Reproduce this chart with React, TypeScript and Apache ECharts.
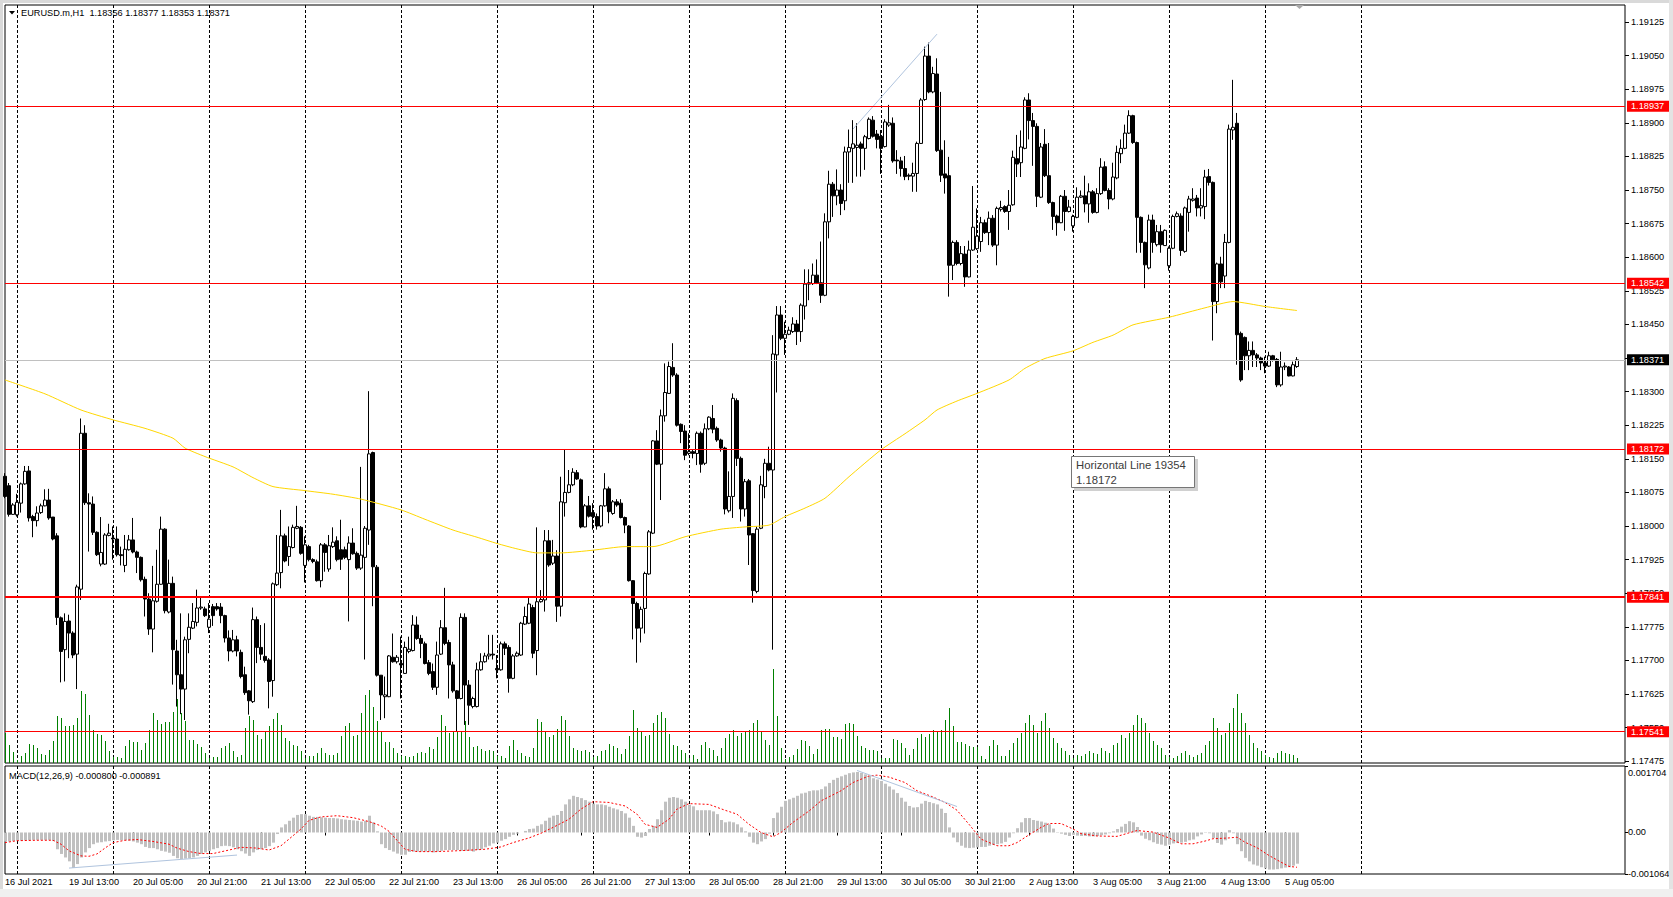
import React, { useEffect, useRef } from "react";
import * as echarts from "echarts";

// ---------------- data ----------------
const symbolName = "EURUSD.m,H1";
const indicatorName = "MACD(12,26,9)";
const tooltipTitle = "Horizontal Line 19354";

// time-axis tick labels, one every 16 hourly bars starting at bar 0
const tickLabels = [
  "16 Jul 2021", "19 Jul 13:00", "20 Jul 05:00", "20 Jul 21:00", "21 Jul 13:00",
  "22 Jul 05:00", "22 Jul 21:00", "23 Jul 13:00", "26 Jul 05:00", "26 Jul 21:00",
  "27 Jul 13:00", "28 Jul 05:00", "28 Jul 21:00", "29 Jul 13:00", "30 Jul 05:00",
  "30 Jul 21:00", "2 Aug 13:00", "3 Aug 05:00", "3 Aug 21:00", "4 Aug 13:00", "5 Aug 05:00",
];
const barsPerLabel = 16;
const firstMidnightBar = 3;
const barsPerDay = 24;
const lastGridBar = 339;
const futureBars = 82;

const priceTicks = [
  1.17475, 1.1755, 1.17625, 1.177, 1.17775, 1.1785, 1.17925, 1.18, 1.18075, 1.1815, 1.18225, 1.183,
  1.18375, 1.1845, 1.18525, 1.186, 1.18675, 1.1875, 1.18825, 1.189, 1.18975, 1.1905, 1.19125,
];
const priceMin = 1.17471;
const priceMax = 1.19163;
const macdMin = -0.001064;
const macdMax = 0.001704;
const macdTicks = [-0.001064, 0, 0.001704];

const redLevels = [1.18937, 1.18542, 1.18172, 1.17841, 1.17541];
const boldLevel = 1.17841;
const bidLevel = 1.18371;
const tooltipLevel = 1.18172;

// [open, high, low, close] per H1 bar
const ohlc: number[][] = [
  [1.18111,1.18118,1.18062,1.18066],[1.1809,1.18096,1.18021,1.18026],[1.18026,1.18051,1.18025,1.18047],[1.18025,1.18072,1.18021,1.18053],
  [1.18051,1.18097,1.1803,1.18094],[1.18094,1.18134,1.18092,1.18122],[1.18123,1.18134,1.1801,1.18018],[1.18021,1.18025,1.17975,1.18012],
  [1.18012,1.18044,1.17999,1.18029],[1.1803,1.1805,1.18027,1.18045],[1.18045,1.18082,1.18044,1.18058],[1.18058,1.18083,1.18014,1.18018],
  [1.1802,1.1802,1.17968,1.17971],[1.17978,1.17984,1.17779,1.17796],[1.17795,1.17798,1.17651,1.1772],[1.17724,1.17805,1.17653,1.17787],
  [1.17788,1.17802,1.17705,1.17761],[1.17761,1.17765,1.17705,1.17712],[1.17714,1.17869,1.17636,1.17864],[1.17859,1.1824,1.17835,1.18207],
  [1.18207,1.18225,1.18047,1.18052],[1.18052,1.18073,1.17943,1.18049],[1.18049,1.18066,1.1798,1.17986],[1.17986,1.17988,1.17933,1.17936],
  [1.17915,1.1802,1.1791,1.17941],[1.17915,1.17984,1.17913,1.1798],[1.17979,1.18005,1.17977,1.17984],[1.17973,1.17999,1.17925,1.17971],
  [1.17971,1.17999,1.17932,1.17936],[1.17936,1.17954,1.17912,1.17934],[1.17912,1.1798,1.17897,1.17948],[1.17947,1.1798,1.17945,1.17969],
  [1.17969,1.18018,1.17939,1.17942],[1.17942,1.17945,1.17895,1.1793],[1.1793,1.17932,1.17876,1.1788],[1.17881,1.17887,1.17798,1.17837],
  [1.17837,1.1785,1.17757,1.1777],[1.1777,1.17911,1.17718,1.17833],[1.17832,1.17947,1.17829,1.1787],[1.1787,1.18021,1.17869,1.17993],
  [1.17993,1.17995,1.17805,1.17811],[1.17808,1.17925,1.17805,1.17872],[1.17872,1.17887,1.17646,1.17724],[1.17721,1.17746,1.17597,1.17668],
  [1.17668,1.17805,1.1758,1.17636],[1.17636,1.17753,1.17567,1.17746],[1.17747,1.17805,1.17716,1.17774],[1.17772,1.17828,1.1777,1.17787],
  [1.17785,1.17858,1.17776,1.17817],[1.17817,1.17841,1.17813,1.17819],[1.17815,1.1782,1.17797,1.178],[1.17774,1.17828,1.17761,1.17792],
  [1.1782,1.17826,1.17777,1.178],[1.1782,1.17828,1.17811,1.17815],[1.17819,1.17828,1.17783,1.178],[1.178,1.17802,1.1774,1.1775],
  [1.1775,1.17767,1.17698,1.17721],[1.17721,1.17768,1.17718,1.17746],[1.17746,1.17755,1.17709,1.17721],[1.17718,1.17724,1.1766,1.17664],
  [1.17668,1.17686,1.17623,1.17628],[1.17632,1.17634,1.17579,1.1761],[1.17608,1.17818,1.17605,1.17791],[1.17791,1.17798,1.17694,1.17729],
  [1.17729,1.17779,1.17701,1.17714],[1.17709,1.17783,1.17695,1.177],[1.17701,1.17705,1.17593,1.17653],[1.17655,1.17874,1.17619,1.17871],
  [1.17869,1.1798,1.17866,1.17895],[1.17896,1.18036,1.17861,1.17978],[1.17978,1.17983,1.17919,1.17922],[1.17932,1.17999,1.17911,1.17954],
  [1.17952,1.18003,1.1795,1.17997],[1.17995,1.18045,1.17993,1.17999],[1.17997,1.18,1.17936,1.17939],[1.17912,1.17977,1.17874,1.17958],
  [1.17954,1.17958,1.17921,1.17925],[1.17925,1.17928,1.17917,1.17921],[1.1792,1.17925,1.17876,1.17878],[1.17878,1.17962,1.17863,1.17958],
  [1.17958,1.17962,1.17898,1.17941],[1.17904,1.1798,1.17898,1.17956],[1.17954,1.17997,1.17951,1.17964],[1.17967,1.17977,1.17921,1.17925],
  [1.17947,1.18014,1.17902,1.17926],[1.17947,1.17954,1.17926,1.1793],[1.17925,1.17977,1.17787,1.17962],[1.17962,1.17995,1.17936,1.17938],
  [1.17939,1.17943,1.17902,1.17906],[1.17906,1.18132,1.17902,1.17935],[1.1793,1.18,1.17702,1.17995],[1.17991,1.18301,1.17958,1.18161],
  [1.18164,1.18166,1.17821,1.17909],[1.17908,1.17913,1.17664,1.17667],[1.17667,1.17667,1.17567,1.17623],[1.17619,1.17664,1.17571,1.17623],
  [1.17619,1.17712,1.17618,1.1771],[1.17707,1.1776,1.17695,1.17697],[1.17697,1.17712,1.17693,1.17707],[1.17693,1.17753,1.17615,1.1769],
  [1.17671,1.17742,1.1767,1.17729],[1.1772,1.17753,1.17716,1.17725],[1.17722,1.17801,1.1772,1.17779],[1.17779,1.17798,1.17746,1.17749],
  [1.17749,1.17757,1.17705,1.17738],[1.17737,1.17742,1.17691,1.17693],[1.17695,1.17701,1.17667,1.17671],[1.17675,1.17693,1.17634,1.1764],
  [1.1764,1.17742,1.17623,1.17712],[1.17714,1.1779,1.17712,1.17773],[1.17773,1.17862,1.17734,1.17738],[1.1774,1.17746,1.17615,1.1769],
  [1.1769,1.17697,1.17628,1.17632],[1.17632,1.17634,1.17541,1.17615],[1.17615,1.17805,1.17613,1.17796],[1.17796,1.17805,1.17556,1.17645],
  [1.17645,1.17656,1.17556,1.176],[1.17597,1.17619,1.17593,1.17615],[1.17597,1.17695,1.17595,1.17679],[1.17679,1.17716,1.17677,1.17697],
  [1.17697,1.17717,1.17695,1.1771],[1.1771,1.17757,1.17702,1.17714],[1.17714,1.17757,1.17702,1.17712],[1.17682,1.17712,1.1766,1.17679],
  [1.17679,1.17742,1.17677,1.17737],[1.17737,1.17742,1.17712,1.17727],[1.17729,1.17734,1.17628,1.1766],[1.1766,1.17714,1.17658,1.1771],
  [1.1771,1.1772,1.17708,1.17716],[1.17712,1.17786,1.1771,1.17783],[1.17781,1.1782,1.17779,1.17798],[1.17783,1.17842,1.17781,1.17826],
  [1.17818,1.17824,1.17705,1.17716],[1.17722,1.17997,1.17667,1.17831],[1.17831,1.17857,1.17829,1.17836],[1.17835,1.17991,1.17809,1.17967],
  [1.17967,1.17991,1.17909,1.17913],[1.17917,1.17969,1.17913,1.17933],[1.17933,1.17946,1.17786,1.17821],[1.17821,1.1811,1.17798,1.18054],
  [1.18052,1.1817,1.18021,1.18075],[1.18075,1.18125,1.18073,1.18092],[1.18092,1.18129,1.18089,1.1812],[1.18119,1.18125,1.18103,1.18105],
  [1.18103,1.18106,1.17995,1.17998],[1.17998,1.18049,1.17997,1.18045],[1.18045,1.18067,1.18019,1.18022],[1.1803,1.18051,1.17992,1.18021],
  [1.18021,1.18028,1.17992,1.18],[1.18,1.18047,1.17997,1.18045],[1.18045,1.18118,1.18043,1.18083],[1.18083,1.18088,1.18006,1.18032],
  [1.18028,1.18058,1.18025,1.18054],[1.18054,1.1806,1.18043,1.18047],[1.18051,1.1806,1.18017,1.18019],[1.18019,1.18021,1.17984,1.18002],
  [1.18,1.18002,1.17876,1.17878],[1.17878,1.17879,1.17747,1.17827],[1.17827,1.17831,1.17695,1.17772],[1.17772,1.1782,1.1774,1.17814],
  [1.17816,1.17898,1.1776,1.17894],[1.17893,1.17991,1.17891,1.17987],[1.17984,1.18192,1.17982,1.1819],[1.1819,1.18214,1.18136,1.18138],
  [1.18138,1.1826,1.18058,1.18246],[1.18246,1.18363,1.18233,1.18298],[1.18296,1.18367,1.18295,1.18356],[1.18354,1.18408,1.18333,1.18337],
  [1.18337,1.18341,1.18222,1.18225],[1.18227,1.18229,1.18185,1.18211],[1.18212,1.18225,1.18147,1.18158],[1.18162,1.18207,1.18158,1.18166],
  [1.18166,1.18171,1.18151,1.18162],[1.18162,1.18211,1.18136,1.18207],[1.18207,1.18211,1.18119,1.18138],[1.1814,1.18229,1.18136,1.18217],
  [1.18217,1.18245,1.18214,1.18243],[1.1824,1.1827,1.18207,1.18216],[1.18218,1.18222,1.18188,1.18192],[1.18192,1.18195,1.18166,1.18174],
  [1.18174,1.18177,1.18026,1.18038],[1.18034,1.18122,1.1803,1.18066],[1.18066,1.18296,1.18018,1.18285],[1.1828,1.18285,1.18134,1.18151],
  [1.18151,1.18155,1.1801,1.18038],[1.18038,1.18105,1.18021,1.18099],[1.18101,1.18105,1.17913,1.1798],[1.17983,1.17984,1.17829,1.17856],
  [1.17854,1.17999,1.1785,1.17993],[1.17995,1.18112,1.17993,1.18092],[1.18088,1.1815,1.18062,1.1814],[1.1814,1.18177,1.18122,1.18125],
  [1.18125,1.18426,1.17724,1.18384],[1.18382,1.18491,1.18298,1.18471],[1.18471,1.18491,1.18415,1.18419],[1.18419,1.18456,1.18382,1.18428],
  [1.18428,1.18445,1.18426,1.18437],[1.18434,1.18466,1.18431,1.18451],[1.18451,1.1846,1.18404,1.18434],[1.18434,1.18497,1.18411,1.18493],
  [1.18491,1.18573,1.18461,1.1854],[1.18543,1.18573,1.18504,1.1854],[1.18541,1.18586,1.18538,1.1856],[1.1856,1.18595,1.1854,1.18543],
  [1.18543,1.18635,1.18498,1.18515],[1.18515,1.18698,1.18513,1.18679],[1.18679,1.18793,1.18642,1.18763],[1.18763,1.18768,1.1869,1.18737],
  [1.18737,1.18796,1.18716,1.1875],[1.1875,1.18763,1.18694,1.1872],[1.18726,1.18847,1.18705,1.18835],[1.18835,1.18885,1.18766,1.18845],
  [1.18843,1.18906,1.18766,1.18853],[1.18845,1.18899,1.1878,1.1885],[1.18853,1.18858,1.1878,1.18843],[1.18843,1.18873,1.18795,1.18869],
  [1.18865,1.18912,1.18863,1.18908],[1.18906,1.18915,1.18867,1.1887],[1.18875,1.18884,1.18843,1.18863],[1.1887,1.18884,1.18786,1.18843],
  [1.18847,1.18908,1.18845,1.18902],[1.18895,1.1894,1.18891,1.189],[1.18899,1.18912,1.18811,1.18815],[1.18817,1.18839,1.18786,1.18815],
  [1.18815,1.18824,1.1878,1.18798],[1.18798,1.18826,1.18772,1.1878],[1.18783,1.18787,1.18772,1.18781],[1.18781,1.18811,1.18746,1.18787],
  [1.18787,1.18858,1.18746,1.18854],[1.18854,1.18955,1.18853,1.18951],[1.18952,1.1907,1.18949,1.19049],[1.19049,1.19079,1.18966,1.18969],
  [1.18969,1.19025,1.18966,1.1901],[1.19009,1.19044,1.18835,1.18838],[1.18839,1.18969,1.18768,1.18783],[1.18786,1.18861,1.18742,1.18777],
  [1.18782,1.18824,1.18512,1.18582],[1.18582,1.18637,1.18549,1.18633],[1.18633,1.18638,1.18582,1.18586],[1.18586,1.18625,1.18582,1.18608],
  [1.18607,1.18625,1.18534,1.18556],[1.18556,1.18637,1.18555,1.18616],[1.18616,1.18759,1.18614,1.18667],[1.18619,1.18709,1.18616,1.18647],
  [1.18635,1.1869,1.18612,1.18677],[1.18677,1.18684,1.18652,1.18655],[1.18655,1.18702,1.18627,1.18687],[1.18687,1.18694,1.18623,1.18627],
  [1.18627,1.18713,1.18582,1.18709],[1.18707,1.18726,1.18702,1.18711],[1.18713,1.18716,1.18699,1.18702],[1.18702,1.1875,1.18661,1.18716],
  [1.18717,1.18838,1.18715,1.18823],[1.1882,1.18873,1.18779,1.18808],[1.18811,1.18883,1.18779,1.18846],[1.18843,1.18957,1.18841,1.18951],
  [1.18951,1.18966,1.18863,1.18905],[1.18905,1.18922,1.18804,1.18892],[1.18892,1.18899,1.18712,1.18736],[1.18734,1.18855,1.18732,1.18846],
  [1.18852,1.18886,1.18779,1.18782],[1.18782,1.18855,1.18719,1.18722],[1.18722,1.18724,1.18661,1.18691],[1.18692,1.18695,1.18648,1.18677],
  [1.18677,1.18739,1.18676,1.18736],[1.18736,1.1875,1.18659,1.18702],[1.18702,1.18728,1.187,1.18712],[1.1867,1.18695,1.18657,1.18691],
  [1.18689,1.18756,1.18687,1.18734],[1.18734,1.18749,1.18732,1.18737],[1.18737,1.18782,1.187,1.18719],[1.18719,1.18765,1.18677,1.18746],
  [1.18746,1.1875,1.18697,1.187],[1.187,1.18754,1.18698,1.18742],[1.18742,1.18821,1.18739,1.18801],[1.18802,1.18814,1.18747,1.18749],
  [1.18749,1.18754,1.18707,1.1873],[1.1873,1.18811,1.18727,1.18779],[1.18777,1.18849,1.18774,1.18834],[1.18831,1.18863,1.1881,1.18843],
  [1.18843,1.18896,1.18841,1.18877],[1.18877,1.18928,1.18875,1.18916],[1.18916,1.18918,1.18853,1.18856],[1.18856,1.18858,1.1861,1.18689],
  [1.18689,1.18691,1.1861,1.18633],[1.18633,1.18635,1.18531,1.18583],[1.18576,1.18695,1.18573,1.18683],[1.18683,1.18695,1.1861,1.18633],
  [1.18628,1.18672,1.18624,1.18657],[1.18657,1.18672,1.1861,1.18628],[1.18626,1.18662,1.18625,1.1866],[1.18581,1.18624,1.1857,1.1862],
  [1.1862,1.18695,1.18618,1.18691],[1.18691,1.18702,1.18689,1.18697],[1.18692,1.18698,1.18603,1.18615],[1.18613,1.18713,1.1861,1.1871],
  [1.187,1.18737,1.18657,1.1873],[1.18727,1.18754,1.18724,1.1873],[1.18732,1.18739,1.18691,1.1871],[1.1871,1.18754,1.18691,1.18715],
  [1.18713,1.18795,1.18685,1.18779],[1.1878,1.18797,1.1876,1.18767],[1.18767,1.18769,1.18414,1.18501],[1.18501,1.18588,1.18475,1.18585],
  [1.18585,1.18601,1.18531,1.18545],[1.18558,1.18652,1.18531,1.18633],[1.18633,1.18896,1.18631,1.18886],[1.18884,1.18996,1.18862,1.1889],
  [1.18899,1.18922,1.1836,1.18427],[1.1843,1.18434,1.18322,1.18326],[1.18421,1.18423,1.18348,1.1838],[1.1838,1.18412,1.18348,1.18392],
  [1.18392,1.18412,1.18355,1.18382],[1.18382,1.18386,1.18355,1.18375],[1.18375,1.18378,1.18348,1.18364],[1.18364,1.18378,1.18341,1.18357],
  [1.18357,1.18389,1.18355,1.1838],[1.1838,1.18382,1.18367,1.18371],[1.18372,1.18375,1.1831,1.18315],[1.18315,1.18389,1.18311,1.18355],
  [1.18355,1.18365,1.18348,1.18357],[1.18355,1.18357,1.18334,1.18335],[1.18335,1.18367,1.18334,1.1836],[1.18356,1.18377,1.18353,1.18371],
];

// tick volume per bar
const tickVolume = [
  30,18,11,3,7,10,19,18,15,9,8,13,22,47,45,37,37,38,45,72,69,48,33,29,28,22,12,6,6,5,17,23,21,21,13,20,33,50,43,39,
  41,41,51,64,50,42,23,23,19,16,10,5,6,6,15,17,20,12,6,8,35,47,43,28,24,32,37,44,50,38,25,22,18,17,12,5,7,7,10,15,
  10,8,8,10,27,37,40,27,28,50,68,73,56,42,32,21,21,15,10,7,7,6,7,10,11,10,16,14,26,48,37,30,32,31,32,42,26,16,17,14,
  12,13,12,7,7,5,17,23,13,10,7,6,15,44,41,32,26,28,34,47,43,27,15,13,12,13,11,6,7,12,13,19,17,15,9,14,27,53,35,32,
  27,28,40,48,51,45,29,18,17,13,10,5,8,4,18,21,15,13,7,15,25,29,33,27,30,32,33,40,43,32,23,18,94,47,15,4,6,8,14,23,
  22,17,9,14,33,34,34,26,26,24,39,40,39,27,17,15,13,13,12,5,5,5,24,23,20,15,8,14,25,29,26,29,33,32,33,43,55,37,21,21,
  19,17,16,16,7,4,17,23,18,7,7,13,20,25,30,40,48,38,30,42,50,35,25,20,15,12,8,5,8,7,9,12,10,9,15,12,10,18,20,28,
  25,30,38,48,45,40,30,22,18,15,8,6,5,7,10,12,8,6,8,10,18,22,45,35,28,30,40,55,69,50,40,28,20,15,12,8,6,5,10,12,
  10,9,8,5,
];
const volumeAxisMax = 758;

// MACD main line, drawn as histogram
const macdMain = [
  -0.00023,-0.00023,-0.00022,-0.00021,-0.00021,-0.0002,-0.0002,-0.00019,-0.00019,-0.00019,-0.00019,-0.00019,-0.00022,-0.00043,-0.00055,-0.00064,-0.00074,-0.00091,
  -0.00081,-0.00064,-0.00051,-0.0004,-0.0003,-0.00026,-0.00025,-0.00023,-0.00022,-0.0002,-0.00019,-0.0002,-0.0002,-0.00021,-0.00023,-0.00026,-0.0003,-0.00037,
  -0.0004,-0.0004,-0.00043,-0.00047,-0.00049,-0.00052,-0.0006,-0.00066,-0.00068,-0.00067,-0.00066,-0.00064,-0.0006,-0.00055,
  -0.00051,-0.00047,-0.00043,-0.0004,-0.00035,-0.00034,-0.00035,-0.00038,-0.00043,-0.00048,-0.00054,-0.0006,-0.00051,-0.00045,-0.00043,-0.0004,-0.00035,-0.00026,
  -0.00004,0.00013,0.00021,0.0003,0.00038,0.00045,0.00047,0.00047,0.00043,0.0004,0.0004,0.00039,0.00038,0.00037,0.00037,0.00036,0.00034,0.00033,0.00032,0.00031,
  0.0003,0.00028,0.0003,0.00043,0.00026,0.00003,-0.0003,-0.0004,-0.00045,-0.00049,-0.00054,-0.00057,
  -0.00057,-0.0005,-0.00049,-0.00049,-0.00049,-0.00049,-0.00049,-0.00051,-0.00049,-0.00047,-0.00045,-0.00045,-0.00045,-0.00045,-0.00047,-0.00047,-0.00047,-0.00049,
  -0.00045,-0.00043,-0.00038,-0.00034,-0.00028,-0.00026,-0.00021,-0.00017,-0.00011,-0.00006,-0.00003,0,0.00004,0.00009,0.0001,0.00017,
  0.00021,0.0003,0.00038,0.00043,0.00045,0.00055,0.00072,0.00085,0.00094,0.00091,0.00088,0.00083,0.00079,0.00074,0.00072,0.00072,0.0007,0.00066,0.00062,0.00059,
  0.00055,0.00049,0.00038,0.00017,-0.00011,-0.00013,-0.00009,0.00009,0.00017,0.00034,0.00057,0.00079,0.00089,0.00091,0.00089,0.00085,0.00079,0.00071,0.00067,0.00057,
  0.00057,0.00057,0.00057,0.00054,0.00047,0.00032,0.00026,0.00028,
  0.00026,0.00021,0.00013,0.00003,-0.00011,-0.00026,-0.0003,-0.00023,-0.00017,-0.00003,0.00037,0.00051,0.00066,0.00081,0.00085,0.00089,0.00094,0.001,0.00102,0.00106,
  0.00108,0.00108,0.00111,0.00118,0.00127,0.00135,0.0014,0.00144,0.00148,0.00152,0.00154,0.00155,0.00153,0.00149,0.00145,0.00139,0.00136,0.00132,0.00125,0.00118,
  0.0011,0.00101,0.00089,0.00079,0.00068,0.00064,0.00065,0.00074,0.00081,0.00078,
  0.00075,0.00072,0.00061,0.0005,0.00013,-0.00013,-0.00025,-0.00034,-0.00039,-0.0004,-0.00039,-0.00038,-0.00037,-0.00037,-0.00034,-0.00032,-0.0003,-0.00028,-0.00024,-0.00013,
  -0.00002,0.00011,0.00026,0.00037,0.00037,0.00032,0.0003,0.00028,0.00025,0.00021,0.0001,0.00001,-0.00003,-0.00006,-0.00009,-0.00006,-0.00008,-0.00009,-0.00009,-0.0001,
  -0.0001,-0.00009,-0.00007,-0.00005,-0.00002,0.00003,0.00009,0.00015,0.00022,0.00029,
  0.00026,0.00014,-0.00008,-0.00016,-0.0002,-0.00025,-0.00029,-0.00031,-0.00034,-0.00031,-0.00028,-0.00027,-0.00026,-0.00024,-0.0002,-0.00018,-0.0001,-0.00005,-0.00001,-0.00002,
  -0.00014,-0.00027,-0.00031,-0.0002,0.00006,-0.00002,-0.0003,-0.00048,-0.00065,-0.00074,-0.00082,-0.00085,-0.00089,-0.00092,-0.00095,-0.00095,-0.00094,-0.00092,-0.0009,-0.00089,
  -0.00085,-0.0008,
];

// MACD signal line, [bar, value]
const macdSignal: number[][] = [
  [0,-0.00026],[3,-0.00021],[8,-0.0002],[12,-0.0002],[14,-0.0003],[16,-0.00047],[19,-0.0006],[21,-0.00061],[23,-0.00055],[25,-0.0004],
  [27,-0.00026],[30,-0.0002],[33,-0.00018],[37,-0.00023],[41,-0.0003],[43,-0.0004],[46,-0.00049],[49,-0.00054],[52,-0.00054],[56,-0.00045],
  [59,-0.00038],[63,-0.0004],[66,-0.00045],[69,-0.00034],[71,-0.00017],[74,0.00009],[76,0.00031],[79,0.0004],[83,0.00043],[87,0.00038],
  [91,0.00028],[94,0.00017],[96,0.00003],[98,-0.0002],[100,-0.00043],[103,-0.00049],[108,-0.00049],[115,-0.00046],[120,-0.00043],[124,-0.00037],
  [127,-0.00026],[131,-0.00014],[134,-0.00002],[137,0.00013],[141,0.00034],[144,0.0006],[147,0.00079],[151,0.00077],[155,0.00068],[158,0.00047],
  [160,0.00021],[163,0.00013],[166,0.00034],[168,0.0006],[171,0.00074],[176,0.00072],[180,0.00057],[183,0.00047],[186,0.00021],[189,0],
  [192,-0.00011],[194,0],[197,0.00026],[201,0.00055],[204,0.00081],[209,0.00107],[212,0.00128],[216,0.00145],[218,0.00147],[221,0.00142],
  [225,0.00128],[228,0.00107],[232,0.00091],[235,0.00077],[238,0.00057],[241,0.00021],[244,-0.00017],[248,-0.00034],[251,-0.00034],[253,-0.00026],
  [256,-0.00006],[259,0.00013],[261,0.00023],[264,0.00023],[267,0.00009],[269,-0.00003],[273,-0.00009],[278,-0.0001],[283,0.00005],[287,0.00001],
  [291,-0.00014],[294,-0.00029],[297,-0.00029],[300,-0.00022],[302,-0.00016],[306,-0.00014],[308,-0.00012],[310,-0.00025],[313,-0.00039],[316,-0.00059],
  [319,-0.00076],[321,-0.00087],[323,-0.000891],
];
const macdLastMain = -0.0008;
const macdLastSignal = -0.000891;

// yellow moving average, [bar, price]
const movingAverage: number[][] = [
  [0,1.18326],[10,1.18295],[19,1.18259],[27,1.18237],[35,1.18218],[42,1.18196],[45,1.18174],[50,1.18155],[57,1.18132],[62,1.18108],
  [67,1.18088],[75,1.18079],[82,1.18071],[89,1.1806],[99,1.18036],[105,1.18015],[112,1.17991],[118,1.17975],[123,1.17961],[128,1.17949],
  [133,1.1794],[139,1.1794],[147,1.17946],[155,1.17954],[162,1.17954],[170,1.17976],[179,1.17993],[185,1.17998],[191,1.18002],[195,1.18021],
  [200,1.1804],[205,1.18062],[211,1.1811],[219,1.1817],[225,1.18206],[230,1.18237],[233,1.18259],[238,1.18279],[243,1.18296],[251,1.18326],
  [255,1.18352],[260,1.18374],[267,1.18391],[272,1.1841],[277,1.18426],[282,1.18449],[291,1.18466],[300,1.18487],[307,1.18501],[315,1.1849],
  [323,1.18481],
];

// hand-drawn trend lines
const priceTrend: number[][] = [[212, 1.18886], [233, 1.19098]];
const macdTrendA: number[][] = [[16, -0.000912], [58, -0.000579]];
const macdTrendB: number[][] = [[213, 0.00159], [238, 0.000665]];

// ---------------- chart ----------------
const FONT = '"Liberation Sans", Arial, sans-serif';
const FS = 9.2;

export default function App() {
  const ref = useRef<HTMLDivElement>(null);

  useEffect(() => {
    document.body.style.margin = "0";
    const chart = echarts.init(ref.current!, undefined, { renderer: "svg" });

    const nBars = ohlc.length;
    const cats = Array.from({ length: nBars + futureBars }, (_, i) => String(i));
    const last = ohlc[nBars - 1];
    const f5 = (v: number) => v.toFixed(5);

    const isLabel = (i: number) => i % barsPerLabel === 0 && i / barsPerLabel < tickLabels.length;
    const isDayLine = (i: number) =>
      i >= firstMidnightBar && (i - firstMidnightBar) % barsPerDay === 0 && i <= lastGridBar;

    const levelLine = (v: number, color: string, width: number, bg: string) => ({
      name: f5(v),
      yAxis: v,
      lineStyle: { color, width, type: "solid" },
      label: {
        show: true,
        position: "end",
        distance: 2,
        formatter: "{b}",
        color: "#ffffff",
        backgroundColor: bg,
        padding: [1, 5, 0, 4],
        fontSize: FS,
        fontFamily: FONT,
        lineHeight: 10,
      },
    });

    const xBase = (gridIndex: number) => ({
      type: "category",
      gridIndex,
      data: cats,
      boundaryGap: false,
      axisLine: { show: false },
      splitLine: {
        show: true,
        interval: (i: number) => isDayLine(i),
        lineStyle: { color: "#000000", width: 1, type: [3, 2] },
      },
    });

    // hidden helper axes (half-pixel shifted grids) so 1px / 3px bars render crisp
    const xHidden = (gridIndex: number) => ({
      type: "category",
      gridIndex,
      data: cats,
      boundaryGap: false,
      show: false,
    });

    const option: any = {
      animation: false,
      backgroundColor: "#ffffff",
      textStyle: { fontFamily: FONT },
      grid: [
        { left: 5, top: 5, width: 1620, height: 758, show: true, borderColor: "#000", borderWidth: 1, backgroundColor: "#fff" },
        { left: 5, top: 766, width: 1620, height: 108, show: true, borderColor: "#000", borderWidth: 1, backgroundColor: "#fff" },
        { left: 5.5, top: 5, width: 1620, height: 758, show: false },
        { left: 5.5, top: 766, width: 1620, height: 108, show: false },
      ],
      xAxis: [
        { ...xBase(0), axisTick: { show: false }, axisLabel: { show: false } },
        {
          ...xBase(1),
          axisTick: { show: true, interval: (i: number) => isLabel(i), length: 3, lineStyle: { color: "#000" } },
          axisLabel: {
            show: true,
            interval: (i: number) => isLabel(i),
            formatter: (_v: string, i: number) => tickLabels[i / barsPerLabel] ?? "",
            align: "left",
            margin: 3,
            color: "#000",
            fontSize: FS,
            fontFamily: FONT,
          },
        },
        xHidden(2),
        xHidden(3),
      ],
      yAxis: [
        {
          type: "value",
          gridIndex: 0,
          position: "right",
          min: priceMin,
          max: priceMax,
          axisLine: { show: false },
          splitLine: { show: false },
          axisTick: { show: true, customValues: priceTicks, length: 4, lineStyle: { color: "#000" } },
          axisLabel: {
            show: true,
            customValues: priceTicks,
            formatter: (v: number) => f5(v),
            margin: 6,
            color: "#000",
            fontSize: FS,
            fontFamily: FONT,
          },
        },
        { type: "value", gridIndex: 2, min: 0, max: volumeAxisMax, show: false },
        {
          type: "value",
          gridIndex: 1,
          position: "right",
          min: macdMin,
          max: macdMax,
          axisLine: { show: false },
          splitLine: { show: false },
          axisTick: { show: true, customValues: macdTicks, length: 3, lineStyle: { color: "#000" } },
          axisLabel: {
            show: true,
            customValues: macdTicks,
            formatter: (v: number) =>
              v === 0 ? "0.00" : v === macdMax ? "{top|" + v.toFixed(6) + "}" : v.toFixed(6),
            rich: { top: { padding: [13, 0, 0, 0], fontSize: FS, fontFamily: FONT, color: "#000" } },
            margin: 3,
            color: "#000",
            fontSize: FS,
            fontFamily: FONT,
          },
        },
        { type: "value", gridIndex: 3, min: macdMin, max: macdMax, show: false },
      ],
      series: [
        {
          name: "Volumes",
          type: "bar",
          xAxisIndex: 2,
          yAxisIndex: 1,
          data: tickVolume,
          barWidth: 1,
          itemStyle: { color: "#008000" },
          z: 1,
          silent: true,
        },
        {
          name: "EURUSD",
          type: "candlestick",
          xAxisIndex: 0,
          yAxisIndex: 0,
          data: ohlc.map((r) => [r[0], r[3], r[2], r[1]]),
          barWidth: 3,
          itemStyle: { color: "#ffffff", color0: "#000000", borderColor: "#000000", borderColor0: "#000000", borderWidth: 1 },
          z: 3,
          silent: true,
          markLine: {
            silent: true,
            symbol: ["none", "none"],
            precision: 5,
            animation: false,
            data: [
              levelLine(bidLevel, "#c0c0c0", 1, "#000000"),
              ...redLevels.map((v) => levelLine(v, "#ff0000", v === boldLevel ? 2 : 1, "#ff0000")),
            ],
          },
        },
        {
          name: "MA",
          type: "line",
          xAxisIndex: 0,
          yAxisIndex: 0,
          data: movingAverage,
          symbol: "none",
          smooth: 0.2,
          lineStyle: { color: "#ffd700", width: 1 },
          z: 4,
          silent: true,
        },
        {
          name: "Trend",
          type: "line",
          xAxisIndex: 0,
          yAxisIndex: 0,
          data: priceTrend,
          symbol: "none",
          lineStyle: { color: "#b0c4de", width: 1 },
          z: 4,
          silent: true,
        },
        {
          name: "MACD",
          type: "bar",
          xAxisIndex: 3,
          yAxisIndex: 3,
          data: macdMain,
          barWidth: 3,
          itemStyle: { color: "#c0c0c0" },
          z: 2,
          silent: true,
        },
        {
          name: "Signal",
          type: "line",
          xAxisIndex: 1,
          yAxisIndex: 2,
          data: macdSignal,
          symbol: "none",
          lineStyle: { color: "#ff0000", width: 1, type: [2, 2] },
          z: 4,
          silent: true,
        },
        ...[macdTrendA, macdTrendB].map((d) => ({
          type: "line",
          xAxisIndex: 1,
          yAxisIndex: 2,
          data: d,
          symbol: "none",
          lineStyle: { color: "#b0c4de", width: 1 },
          z: 5,
          silent: true,
        })),
      ],
      graphic: [
        { type: "rect", shape: { x: 0, y: 0, width: 1673, height: 3 }, style: { fill: "#d9d9d9" }, z: 10 },
        { type: "rect", shape: { x: 0, y: 0, width: 3, height: 897 }, style: { fill: "#d9d9d9" }, z: 10 },
        { type: "rect", shape: { x: 1669, y: 0, width: 4, height: 897 }, style: { fill: "#e3e3e3" }, z: 10 },
        { type: "rect", shape: { x: 0, y: 889, width: 1673, height: 8 }, style: { fill: "#f0f0f0" }, z: 10 },
        { type: "polygon", shape: { points: [[9, 11], [15, 11], [12, 14.5]] }, style: { fill: "#000" }, z: 10 },
        {
          type: "text",
          x: 21,
          y: 13,
          style: {
            text: `${symbolName}  ${f5(last[0])} ${f5(last[1])} ${f5(last[2])} ${f5(last[3])}`,
            fill: "#000",
            fontSize: FS,
            fontFamily: FONT,
            verticalAlign: "middle",
          },
          z: 10,
        },
        {
          type: "text",
          x: 9,
          y: 776,
          style: {
            text: `${indicatorName} ${macdLastMain.toFixed(6)} ${macdLastSignal.toFixed(6)}`,
            fill: "#000",
            fontSize: FS,
            fontFamily: FONT,
            verticalAlign: "middle",
          },
          z: 10,
        },
        { type: "polygon", shape: { points: [[1295, 5], [1304, 5], [1299.5, 9]] }, style: { fill: "#a9a9a9" }, z: 10 },
        { type: "rect", shape: { x: 1074, y: 459, width: 124, height: 32 }, style: { fill: "#d0d0d0" }, z: 10 },
        { type: "rect", shape: { x: 1071.5, y: 456.5, width: 123, height: 31 }, style: { fill: "#ffffff", stroke: "#767676", lineWidth: 1 }, z: 11 },
        {
          type: "text",
          x: 1076,
          y: 465,
          style: { text: tooltipTitle, fill: "#3c3c3c", fontSize: 11.3, fontFamily: FONT, verticalAlign: "middle" },
          z: 12,
        },
        {
          type: "text",
          x: 1076,
          y: 480,
          style: { text: f5(tooltipLevel), fill: "#3c3c3c", fontSize: 11.3, fontFamily: FONT, verticalAlign: "middle" },
          z: 12,
        },
      ],
    };

    chart.setOption(option);
    return () => chart.dispose();
  }, []);

  return (
    <div
      ref={ref}
      style={{ position: "absolute", left: 0, top: 0, width: 1673, height: 897, background: "#fff" }}
    />
  );
}
